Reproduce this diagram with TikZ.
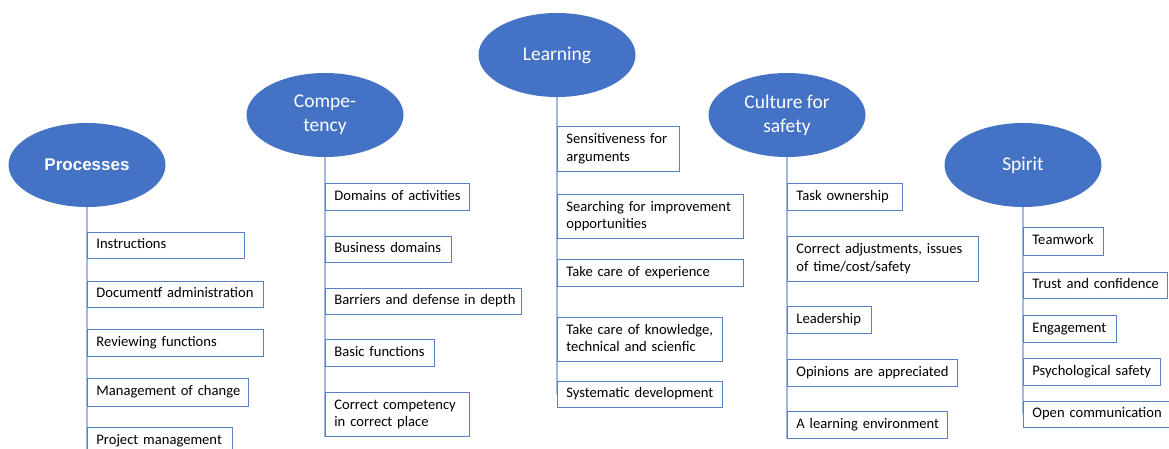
\documentclass[tikz,border=0pt]{standalone}
\usepackage{fontspec}
\setmainfont{Carlito}
\newfontfamily\headfont{Liberation Sans}
\usepackage{tikz}
\usetikzlibrary{shapes.geometric,backgrounds}

\definecolor{topicblue}{HTML}{4472C4}
\definecolor{boxblue}{HTML}{5B7FC7}
\definecolor{stemblue}{HTML}{A3B8E0}

% keeps a box's lines from breaking
\newcommand{\entry}[1]{\begin{tabular}{@{}l@{}}#1\end{tabular}}

\tikzset{
  topic/.style={ellipse, fill=topicblue, text=white, minimum width=157pt,
    minimum height=84pt, inner sep=0pt, align=center,
    font=\fontsize{19.5}{24}\selectfont},
  item/.style={draw=boxblue, line width=0.8pt, anchor=north west,
    inner xsep=9pt, inner ysep=0pt, align=left,
    font=\fontsize{14.6}{17.5}\selectfont},
  stem/.style={draw=stemblue, line width=1.3pt}
}

\begin{document}
\begin{tikzpicture}[x=1pt,y=-1pt]
\useasboundingbox (0,0) rectangle (1169,448);
\clip (0,0) rectangle (1169,448);

% the five topics
\node[topic, font=\headfont\bfseries\fontsize{17}{20}\selectfont] (proc) at (87,165) {Processes};
\node[topic] (comp) at (325,115) {Compe-\\tency};
\node[topic] (learn) at (557,55) {Learning};
\node[topic] (cult) at (787,115) {Culture for\\safety};
\node[topic] (spirit) at (1023,165) {Spirit};

% processes
\node[item, text width=139pt, minimum height=26pt] (proc1) at (87,232) {\entry{Instructions}};
\node[item, text width=158pt, minimum height=26pt] (proc2) at (87,281) {\entry{Documentf administration}};
\node[item, text width=158pt, minimum height=27pt] (proc3) at (87,329) {\entry{Reviewing functions}};
\node[item, text width=143pt, minimum height=28pt] (proc4) at (87,378) {\entry{Management of change}};
\node[item, text width=127pt, minimum height=27pt] (proc5) at (87,427) {\entry{Project management}};

% competency
\node[item, text width=126pt, minimum height=27pt] (comp1) at (325,183) {\entry{Domains of activities}};
\node[item, text width=108pt, minimum height=26pt] (comp2) at (325,236) {\entry{Business domains}};
\node[item, text width=178pt, minimum height=26pt] (comp3) at (325,288) {\entry{Barriers and defense in depth}};
\node[item, text width=91pt, minimum height=27pt] (comp4) at (325,339) {\entry{Basic functions}};
\node[item, text width=126pt, minimum height=44pt] (comp5) at (325,392) {\entry{Correct competency\\in correct place}};

% learning
\node[item, text width=104pt, minimum height=45pt] (learn1) at (557,126) {\entry{Sensitiveness for\\arguments}};
\node[item, text width=168pt, minimum height=44pt] (learn2) at (557,194) {\entry{Searching for improvement\\opportunities}};
\node[item, text width=168pt, minimum height=27pt] (learn3) at (557,259) {\entry{Take care of experience}};
\node[item, text width=147pt, minimum height=44pt] (learn4) at (557,317) {\entry{Take care of knowledge,\\technical and scienfic}};
\node[item, text width=147pt, minimum height=26pt] (learn5) at (557,381) {\entry{Systematic development}};

% culture for safety
\node[item, text width=97pt, minimum height=27pt] (cult1) at (787,183) {\entry{Task ownership}};
\node[item, text width=173pt, minimum height=45pt] (cult2) at (787,236) {\entry{Correct adjustments, issues\\of time/cost/safety}};
\node[item, text width=66pt, minimum height=27pt] (cult3) at (787,306) {\entry{Leadership}};
\node[item, text width=152pt, minimum height=27pt] (cult4) at (787,359) {\entry{Opinions are appreciated}};
\node[item, text width=142pt, minimum height=27pt] (cult5) at (787,411) {\entry{A learning environment}};

% spirit
\node[item, text width=62pt, minimum height=28pt] (spirit1) at (1023,227) {\entry{Teamwork}};
\node[item, text width=126pt, minimum height=26pt] (spirit2) at (1023,272) {\entry{Trust and confidence}};
\node[item, text width=75pt, minimum height=27pt] (spirit3) at (1023,315) {\entry{Engagement}};
\node[item, text width=119pt, minimum height=27pt] (spirit4) at (1023,358) {\entry{Psychological safety}};
\node[item, text width=140pt, minimum height=26pt] (spirit5) at (1023,401) {\entry{Open communication}};

% stems behind the boxes
\begin{scope}[on background layer]
\draw[stem] (proc.south) -- (proc5.south west);
\draw[stem] (comp.south) -- (comp5.south west);
\draw[stem] (learn.south) -- (learn5.west);
\draw[stem] (cult.south) -- (cult5.south west);
\draw[stem] (spirit.south) -- (spirit5.west);
\end{scope}
\end{tikzpicture}
\end{document}
